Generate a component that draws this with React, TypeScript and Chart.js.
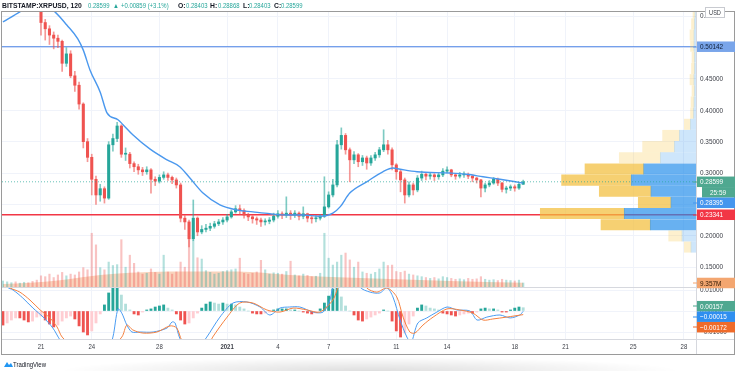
import React, { useEffect, useRef } from 'react';
import { Chart, registerables } from 'chart.js';
Chart.register(...registerables);

// ---------------- DATA (6h bars; index 0 = Dec 18 18:00) ----------------
const firstOpen = 0.585;
const closes = [
  0.590, 0.600, 0.610, 0.605, 0.615, 0.620, 0.610, 0.600, 0.575,
  0.540, 0.530, 0.520, 0.515, 0.510, 0.475, 0.490, 0.455, 0.440, 0.410, 0.350, 0.325,
  0.290, 0.265, 0.275, 0.260, 0.345, 0.355, 0.375, 0.330, 0.330, 0.315, 0.310, 0.305,
  0.302, 0.305, 0.290, 0.287, 0.293, 0.297, 0.293, 0.289, 0.281, 0.228, 0.222, 0.195,
  0.228, 0.206, 0.210, 0.212, 0.215, 0.219, 0.222, 0.225, 0.230, 0.238, 0.243, 0.240,
  0.233, 0.230, 0.227, 0.225, 0.222, 0.223, 0.225, 0.231, 0.235, 0.233, 0.236, 0.233,
  0.236, 0.231, 0.235, 0.228, 0.227, 0.228, 0.231, 0.246, 0.265, 0.281, 0.345, 0.360,
  0.337, 0.321, 0.329, 0.318, 0.324, 0.316, 0.324, 0.329, 0.337, 0.345, 0.337, 0.313,
  0.302, 0.289, 0.265, 0.281, 0.273, 0.292, 0.298, 0.295, 0.297, 0.294, 0.297, 0.303,
  0.305, 0.297, 0.295, 0.297, 0.298, 0.295, 0.292, 0.289, 0.276, 0.281, 0.284, 0.290,
  0.284, 0.274, 0.276, 0.278, 0.276, 0.282, 0.28599,
];
const highs = [
  0.600, 0.610, 0.620, 0.615, 0.625, 0.630, 0.620, 0.610, 0.600,
  0.580, 0.545, 0.535, 0.525, 0.520, 0.512, 0.500, 0.495, 0.462, 0.445, 0.412, 0.355,
  0.330, 0.295, 0.282, 0.278, 0.350, 0.362, 0.381, 0.377, 0.340, 0.333, 0.318, 0.314,
  0.309, 0.310, 0.307, 0.294, 0.297, 0.302, 0.300, 0.295, 0.292, 0.284, 0.232, 0.225,
  0.257, 0.230, 0.216, 0.218, 0.220, 0.223, 0.226, 0.229, 0.234, 0.241, 0.248, 0.249,
  0.243, 0.236, 0.232, 0.230, 0.228, 0.227, 0.229, 0.236, 0.240, 0.238, 0.262, 0.240,
  0.240, 0.238, 0.246, 0.236, 0.231, 0.232, 0.234, 0.294, 0.270, 0.290, 0.352, 0.372,
  0.363, 0.340, 0.334, 0.331, 0.328, 0.327, 0.328, 0.333, 0.341, 0.369, 0.352, 0.340,
  0.315, 0.305, 0.292, 0.286, 0.284, 0.296, 0.303, 0.300, 0.301, 0.299, 0.300, 0.307,
  0.310, 0.306, 0.299, 0.301, 0.302, 0.300, 0.297, 0.293, 0.290, 0.284, 0.288, 0.293,
  0.292, 0.285, 0.279, 0.281, 0.281, 0.285, 0.28868,
];
const lows = [
  0.580, 0.585, 0.595, 0.595, 0.600, 0.605, 0.595, 0.585, 0.570,
  0.520, 0.512, 0.505, 0.498, 0.500, 0.462, 0.470, 0.452, 0.430, 0.402, 0.340, 0.318,
  0.265, 0.250, 0.255, 0.252, 0.258, 0.335, 0.350, 0.325, 0.320, 0.308, 0.302, 0.298,
  0.296, 0.298, 0.268, 0.280, 0.284, 0.290, 0.288, 0.283, 0.276, 0.222, 0.210, 0.182,
  0.192, 0.200, 0.203, 0.206, 0.208, 0.212, 0.216, 0.218, 0.222, 0.228, 0.236, 0.234,
  0.228, 0.224, 0.220, 0.218, 0.215, 0.217, 0.219, 0.222, 0.228, 0.227, 0.229, 0.226,
  0.229, 0.225, 0.227, 0.222, 0.220, 0.222, 0.225, 0.229, 0.244, 0.262, 0.278, 0.338,
  0.330, 0.286, 0.315, 0.310, 0.312, 0.306, 0.312, 0.320, 0.325, 0.334, 0.330, 0.305,
  0.290, 0.270, 0.252, 0.262, 0.265, 0.270, 0.288, 0.289, 0.290, 0.288, 0.290, 0.294,
  0.300, 0.294, 0.290, 0.292, 0.293, 0.291, 0.286, 0.284, 0.262, 0.270, 0.278, 0.282,
  0.280, 0.270, 0.268, 0.272, 0.271, 0.274, 0.28403,
];
// volume, millions
const volumes = [
  14, 12, 10, 12, 9, 11, 10, 13, 16,
  26, 24, 30, 22, 28, 34, 26, 30, 28, 35, 45, 40,
  125, 98, 45, 40, 58, 50, 52, 110, 46, 74, 55, 35,
  30, 32, 42, 34, 30, 74, 35, 30, 35, 58, 46, 110,
  108, 68, 65, 38, 34, 30, 32, 36, 38, 40, 42, 67,
  32, 30, 32, 35, 62, 40, 30, 33, 32, 30, 36, 60,
  28, 26, 30, 27, 24, 25, 32, 125, 67, 51, 58, 74,
  79, 63, 46, 58, 35, 32, 30, 34, 42, 58, 50, 51,
  36, 34, 37, 30, 28, 26, 24, 22, 20, 22, 19, 24,
  22, 20, 18, 19, 17, 20, 18, 19, 24, 18, 16, 17,
  15, 18, 16, 15, 14, 16, 9.357,
];
const volMaIdx = [0, 6.4, 13.5, 23, 30, 39.5, 55.3, 67.8, 84.4, 105.7, 123];
const volMaVal = [7, 10, 16, 28, 33, 36, 36, 28, 21, 14, 10];

// moving average on price
const maIdx = [0, 4, 8, 12.3, 15.1, 17.7, 19, 20.6, 23, 24.6, 27.2, 28.4, 30.7, 34.8, 38.8, 41.8, 44.2, 47.3, 51.3, 55.3, 59.1, 63.1, 67.1, 70.9, 74.9, 78, 79.7, 82, 86, 89.8, 92.2, 93.9, 97.9, 105.7, 109.7, 113.5, 117.5, 123];
const maVal = [0.541, 0.557, 0.575, 0.557, 0.536, 0.514, 0.496, 0.464, 0.429, 0.396, 0.385, 0.377, 0.361, 0.338, 0.321, 0.310, 0.292, 0.268, 0.249, 0.241, 0.238, 0.235, 0.233, 0.233, 0.231, 0.236, 0.246, 0.268, 0.286, 0.302, 0.308, 0.306, 0.302, 0.300, 0.298, 0.294, 0.290, 0.28395];

// MACD
const macdHist = [
  -0.0067, -0.0057, -0.0043, -0.0033, -0.0033, -0.0043, -0.0052, -0.0048, -0.0029,
  -0.0024, -0.0043, -0.0062, -0.0076, -0.0067, -0.0048, -0.0033, -0.0024, -0.0038, -0.0071, -0.0100, -0.0114,
  -0.0095, -0.0057, -0.0014, 0.0029, 0.0086, 0.0114, 0.0114, 0.0076, 0.0033, 0.0005, -0.0014, -0.0019,
  -0.0005, 0.0005, 0.0010, 0.0019, 0.0024, 0.0029, 0.0014, 0.0005, -0.0014, -0.0043, -0.0062, -0.0057,
  -0.0033, -0.0010, 0.0014, 0.0033, 0.0043, 0.0038, 0.0033, 0.0038, 0.0033, 0.0033, 0.0029, 0.0019,
  0.0010, 0.0000, -0.0010, -0.0014, -0.0014, -0.0010, -0.0005, 0.0005, 0.0010, 0.0010, 0.0010, 0.0005,
  0.0005, 0.0000, -0.0005, -0.0010, -0.0014, -0.0010, 0.0010, 0.0038, 0.0071, 0.0105, 0.0114, 0.0067,
  0.0024, 0.0000, -0.0019, -0.0043, -0.0048, -0.0038, -0.0029, -0.0019, -0.0010, 0.0005, 0.0000, -0.0048,
  -0.0095, -0.0124, -0.0105, -0.0062, -0.0024, 0.0014, 0.0029, 0.0024, 0.0014, 0.0010, 0.0005, -0.0010,
  -0.0014, -0.0019, -0.0024, -0.0019, -0.0014, -0.0010, -0.0010, -0.0005, 0.0010, 0.0014, 0.0010, 0.0010,
  0.0005, -0.0005, -0.0005, 0.0005, 0.0014, 0.0019, 0.00157,
];
const macdIdx = [0, 1, 2.4, 4.7, 7.1, 9.5, 11.8, 13.5, 16, 20, 24, 26, 27.2, 28.1, 29.3, 30.5, 32.4, 35.5, 38.8, 40, 40.7, 41.8, 44, 46, 48.2, 51.3, 54.4, 57.7, 60.8, 63.1, 65.5, 67.8, 70.2, 73.3, 75.7, 77.3, 78, 80, 82, 84.4, 86.8, 89.1, 90.8, 92.2, 93.9, 95.5, 96.5, 98.1, 100.2, 102.6, 105, 107.3, 110.4, 112.1, 114.4, 117.5, 119.9, 122.2, 123];
const macdVal = [0.015, 0.0114, 0.0100, 0.0062, 0.0014, -0.0029, -0.0081, -0.0138, -0.020, -0.030, -0.025, -0.0124, 0.001, -0.001, -0.0067, -0.010, -0.010, -0.010, -0.0081, -0.0052, -0.0057, -0.0129, -0.020, -0.018, -0.0124, -0.0029, 0.0038, 0.0043, 0.0019, -0.0019, 0.0014, 0.0019, 0.0019, -0.0005, -0.0005, 0.0052, 0.0114, 0.020, 0.022, 0.0114, 0.009, 0.0086, 0.011, 0.0067, -0.0043, -0.0124, -0.015, -0.0057, -0.0033, -0.0005, 0.0019, 0.0005, 0, -0.0043, -0.0029, -0.0019, -0.0033, -0.0019, -0.00015];
const sigIdx = [0, 1.7, 4, 6.4, 8.8, 11.1, 12.8, 14, 18, 22, 28.1, 29.3, 30.7, 33.1, 36.4, 39.5, 41.1, 42.3, 45, 48, 49.6, 53, 56, 59.1, 62.4, 65.5, 68.6, 71.9, 74.9, 78, 79.2, 81, 83, 86, 88.4, 90.8, 93.1, 94.6, 96.2, 97.4, 99.3, 101.7, 105, 108, 111.1, 113.5, 115.8, 119.1, 123];
const sigVal = [0.014, 0.011, 0.009, 0.0052, 0.0005, -0.0033, -0.0076, -0.0124, -0.020, -0.025, -0.0124, -0.0067, -0.009, -0.0105, -0.010, -0.0071, -0.0081, -0.014, -0.020, -0.018, -0.0124, -0.0029, 0.0038, 0.0038, 0.0005, -0.0005, 0.0014, 0.0005, -0.0005, 0.0052, 0.0114, 0.020, 0.020, 0.011, 0.009, 0.011, 0.0067, -0.0029, -0.010, -0.0105, -0.0067, -0.0029, 0.001, 0.0005, -0.001, -0.0043, -0.0038, -0.0029, -0.00172];

// volume profile (visible range)
const profCenters = [0.1819, 0.1997, 0.2175, 0.2353, 0.2531, 0.2709, 0.2887, 0.3065, 0.3243, 0.3421, 0.3599, 0.3777, 0.3955, 0.4133, 0.4311, 0.4489, 0.4667, 0.4845, 0.5023, 0.5201, 0.5379, 0.5557];
const profUp = [5, 14, 45.7, 71.7, 25, 45, 64.7, 52.3, 35.7, 21.7, 16.7, 5.7, 2.5, 2, 1.5, 2, 1.5, 1.5, 2, 2, 1.5, 1];
const profDown = [6.7, 13.3, 49.3, 84, 32.7, 51.7, 69.7, 58.7, 41, 31.7, 16.7, 6, 3, 3, 2.5, 4, 3, 2.5, 3.5, 4, 3, 2];
const profInValueArea = [0, 0, 1, 1, 1, 1, 1, 1, 0, 0, 0, 0, 0, 0, 0, 0, 0, 0, 0, 0, 0, 0];

// axis ticks
const dayTickIdx = [9, 21, 37, 53, 65, 77, 93, 105, 121, 133, 149, 161];
const dayTickLabels = ['21', '24', '28', '2021', '4', '7', '11', '14', '18', '21', '25', '28'];
const priceTicks = [0.15, 0.2, 0.25, 0.3, 0.35, 0.4, 0.45, 0.5, 0.55];
const macdTicks = [-0.01, 0, 0.01];

// levels & header
const blueLevel = 0.50142;
const redLevel = 0.23341;
const lastPrice = 0.28599;
const maLast = 0.28395;
const lastVolume = 9.357;
const histLast = 0.00157, macdLast = -0.00015, sigLast = -0.00172;
const countdown = '25:59';
const symbol = 'BITSTAMP:XRPUSD, 120';
const changeText = '+0.00859 (+3.1%)';
const ohlcKeys = ['O:', 'H:', 'L:', 'C:'];
const ohlcVals = ['0.28403', '0.28868', '0.28403', '0.28599'];

// ---------------- STYLE ----------------
const FONT = "'Liberation Sans', Arial, sans-serif";
const TEAL = '#26a69a';
const RED = '#ef5350';
const GRID = '#f0f3fa';
const X_MIN = -0.22, X_MAX = 163.85;
const P_MIN = 0.1182, P_MAX = 0.5568;
const M_MIN = -0.01333, M_MAX = 0.01143;
const V_MIN = -120.9, V_MAX = 639.5;

function sxText(ctx: CanvasRenderingContext2D, s: string, x: number, y: number, align: CanvasTextAlign, scale: number) {
  ctx.save();
  ctx.translate(x, y);
  ctx.scale(scale, 1);
  ctx.textAlign = align;
  ctx.textBaseline = 'middle';
  ctx.fillText(s, 0, 0);
  ctx.restore();
}

const panePlugin = {
  id: 'panes',
  beforeDatasetDraw(chart: any, args: any) {
    const meta = args.meta;
    let ys = chart.scales[meta.yAxisID];
    if (meta.yAxisID === 'yv') ys = chart.scales.y;
    const a = chart.chartArea;
    const ctx = chart.ctx;
    ctx.save();
    ctx.beginPath();
    ctx.rect(a.left, ys.top, a.right - a.left, ys.bottom - ys.top);
    ctx.clip();
  },
  afterDatasetDraw(chart: any) {
    chart.ctx.restore();
  },
  afterDraw(chart: any) {
    const ctx: CanvasRenderingContext2D = chart.ctx;
    const a = chart.chartArea;
    const y = chart.scales.y, ym = chart.scales.ym, yv = chart.scales.yv, x = chart.scales.x;
    ctx.save();
    ctx.strokeStyle = '#d6d8de';
    ctx.lineWidth = 1;
    ctx.beginPath();
    ctx.moveTo(a.left, Math.round(y.bottom) + 0.5); ctx.lineTo(a.right, Math.round(y.bottom) + 0.5);
    ctx.moveTo(a.left, Math.round(a.bottom) + 0.5); ctx.lineTo(735, Math.round(a.bottom) + 0.5);
    ctx.moveTo(Math.round(a.right) + 0.5, a.top); ctx.lineTo(Math.round(a.right) + 0.5, 355);
    ctx.stroke();
    ctx.strokeStyle = '#9a9a9a';
    ctx.strokeRect(1.5, 11.5, 733, 343);

    ctx.fillStyle = '#3a3d45';
    ctx.font = `8px ${FONT}`;
    priceTicks.forEach(v => sxText(ctx, v.toFixed(5), a.right + 4, y.getPixelForValue(v), 'left', 0.8));
    macdTicks.forEach(v => sxText(ctx, v.toFixed(5).replace('-', '\u2212'), a.right + 4, ym.getPixelForValue(v), 'left', 0.8));

    dayTickIdx.forEach((v, k) => {
      ctx.font = (dayTickLabels[k] === '2021' ? 'bold ' : '') + `8px ${FONT}`;
      sxText(ctx, dayTickLabels[k], x.getPixelForValue(v), 347, 'center', 0.75);
    });

    const H = 10.5;
    const labels = [
      { yy: y.getPixelForValue(blueLevel), text: blueLevel.toFixed(5), bg: '#79a5ea', fg: '#0f1e36' },
      { yy: y.getPixelForValue(lastPrice), text: lastPrice.toFixed(5), bg: '#4fa890', fg: '#fff', sub: countdown },
      { yy: y.getPixelForValue(maLast), text: maLast.toFixed(5), bg: '#4596ee', fg: '#fff' },
      { yy: y.getPixelForValue(redLevel), text: redLevel.toFixed(5), bg: '#f23645', fg: '#fff' },
      { yy: yv.getPixelForValue(lastVolume), text: lastVolume.toFixed(3) + 'M', bg: '#f3a670', fg: '#2a1500' },
      { yy: ym.getPixelForValue(histLast) - 1.5, text: histLast.toFixed(5), bg: '#4fa890', fg: '#fff' },
      { yy: ym.getPixelForValue(macdLast), text: macdLast.toFixed(5).replace('-', '\u2212'), bg: '#2f8ff0', fg: '#fff' },
      { yy: ym.getPixelForValue(sigLast), text: sigLast.toFixed(5).replace('-', '\u2212'), bg: '#ef6b2a', fg: '#fff' },
    ];
    let prevBottom = -100;
    const placed: any[] = [];
    labels.forEach((l: any) => {
      const c = Math.max(l.yy, prevBottom + H / 2);
      placed.push({ ...l, c });
      prevBottom = c + H / 2;
      if (l.sub) {
        const c2 = prevBottom + H / 2;
        placed.push({ text: l.sub, bg: l.bg, fg: '#fff', c: c2, narrow: true });
        prevBottom = c2 + H / 2;
      }
    });
    ctx.font = `8px ${FONT}`;
    placed.forEach(l => {
      const x0 = l.narrow ? 702 : 697;
      ctx.fillStyle = l.bg;
      ctx.fillRect(x0, l.c - H / 2, 735 - x0, H);
      if (!l.narrow) ctx.fillRect(693, Math.round(l.c) - 0.5, 4, 1);
      ctx.fillStyle = l.fg;
      if (l.narrow) sxText(ctx, l.text, 718, l.c + 0.5, 'center', 0.8);
      else sxText(ctx, l.text, 700, l.c + 0.5, 'left', 0.8);
    });

    ctx.fillStyle = '#fff';
    ctx.fillRect(705.5, 7.5, 19, 10);
    ctx.strokeStyle = '#c8cad0';
    ctx.strokeRect(705.5, 7.5, 19, 10);
    ctx.fillStyle = '#3a3d45';
    ctx.font = `7px ${FONT}`;
    sxText(ctx, 'USD', 715, 12.8, 'center', 0.8);
    ctx.restore();
  },
};

function buildConfig(): any {
  const idx = closes.map((_, i) => i);
  const opens = closes.map((c, i) => (i === 0 ? firstOpen : closes[i - 1]));
  const isUp = closes.map((c, i) => c >= opens[i]);
  const pts = (xs: number[], ys: number[]) => xs.map((v, k) => ({ x: v, y: ys[k] }));
  const histColors = macdHist.map((v, i) => {
    const p = i ? macdHist[i - 1] : 0;
    return v >= 0 ? (v >= p ? TEAL : '#b2dfdb') : (v <= p ? RED : '#ffcdd2');
  });
  const hidden = { display: false, offset: false };

  return {
    type: 'bar',
    data: {
      datasets: [
        {
          type: 'line', label: 'Vol MA', yAxisID: 'yv', xAxisID: 'x', order: 20,
          data: pts(volMaIdx, volMaVal), borderWidth: 0, pointRadius: 0,
          backgroundColor: 'rgba(240,140,80,0.38)', fill: 'origin', cubicInterpolationMode: 'monotone',
        },
        {
          label: 'Volume', yAxisID: 'yv', xAxisID: 'x', order: 19, grouped: false, barThickness: 1.5,
          data: idx.map(i => ({ x: i, y: volumes[i] })),
          backgroundColor: idx.map(i => (isUp[i] ? 'rgba(38,166,154,0.35)' : 'rgba(239,83,80,0.35)')),
        },
        {
          type: 'line', label: 'Blue level', yAxisID: 'y', xAxisID: 'x', order: 15,
          data: [{ x: X_MIN, y: blueLevel }, { x: X_MAX, y: blueLevel }],
          borderColor: '#4f86e6', borderWidth: 1, pointRadius: 0,
        },
        {
          type: 'line', label: 'Red level', yAxisID: 'y', xAxisID: 'x', order: 15,
          data: [{ x: X_MIN, y: redLevel }, { x: X_MAX, y: redLevel }],
          borderColor: '#f23645', borderWidth: 1.6, pointRadius: 0,
        },
        {
          label: 'Wicks', yAxisID: 'y', xAxisID: 'x', order: 12, grouped: false, barThickness: 1,
          data: idx.map(i => ({ x: i, y: [Math.min(lows[i], opens[i], closes[i]), Math.max(highs[i], opens[i], closes[i])] })),
          backgroundColor: idx.map(i => (isUp[i] ? 'rgba(38,166,154,0.6)' : 'rgba(239,83,80,0.6)')),
        },
        {
          label: 'Bodies', yAxisID: 'y', xAxisID: 'x', order: 11, grouped: false, barThickness: 2.4, minBarLength: 1,
          data: idx.map(i => ({ x: i, y: [opens[i], closes[i]] })),
          backgroundColor: idx.map(i => (isUp[i] ? TEAL : RED)),
        },
        {
          type: 'line', label: 'MA', yAxisID: 'y', xAxisID: 'x', order: 10,
          data: pts(maIdx, maVal), borderColor: '#4a98ee', borderWidth: 1.4, pointRadius: 0,
          cubicInterpolationMode: 'monotone',
        },
        {
          label: 'Profile up', yAxisID: 'y', xAxisID: 'xp', indexAxis: 'y', order: 5, grouped: false, barThickness: 10.4,
          data: profCenters.map((c, k) => ({ y: c, x: [0, profUp[k]] })),
          backgroundColor: profInValueArea.map(f => (f ? 'rgba(33,140,235,0.68)' : 'rgba(33,140,235,0.22)')),
        },
        {
          label: 'Profile down', yAxisID: 'y', xAxisID: 'xp', indexAxis: 'y', order: 5, grouped: false, barThickness: 10.4,
          data: profCenters.map((c, k) => ({ y: c, x: [profUp[k], profUp[k] + profDown[k]] })),
          backgroundColor: profInValueArea.map(f => (f ? 'rgba(242,190,60,0.72)' : 'rgba(248,200,80,0.28)')),
        },
        {
          type: 'line', label: 'Last', yAxisID: 'y', xAxisID: 'x', order: 1,
          data: [{ x: X_MIN, y: lastPrice }, { x: X_MAX, y: lastPrice }],
          borderColor: 'rgba(38,166,154,0.7)', borderWidth: 1, borderDash: [1, 2], pointRadius: 0,
        },
        {
          label: 'Histogram', yAxisID: 'ym', xAxisID: 'x', order: 12, grouped: false, barThickness: 2.2,
          data: idx.map(i => ({ x: i, y: macdHist[i] })), backgroundColor: histColors,
        },
        {
          type: 'line', label: 'MACD', yAxisID: 'ym', xAxisID: 'x', order: 10,
          data: pts(macdIdx, macdVal), borderColor: '#4a9cf2', borderWidth: 1, pointRadius: 0, tension: 0.3,
        },
        {
          type: 'line', label: 'Signal', yAxisID: 'ym', xAxisID: 'x', order: 9,
          data: pts(sigIdx, sigVal), borderColor: '#f5813f', borderWidth: 1, pointRadius: 0, tension: 0.3,
        },
      ],
    },
    options: {
      responsive: false,
      animation: false,
      devicePixelRatio: 1,
      events: [],
      layout: { padding: { left: 2, top: 12, right: 1, bottom: 16 } },
      plugins: { legend: { display: false }, tooltip: { enabled: false } },
      scales: {
        x: {
          type: 'linear', position: 'bottom', min: X_MIN, max: X_MAX, offset: false,
          grid: { color: GRID, drawTicks: false, offset: false }, border: { display: false },
          ticks: { display: false },
          afterBuildTicks: (s: any) => { s.ticks = dayTickIdx.map(v => ({ value: v })); },
          afterFit: (s: any) => { s.height = 16; },
        },
        y: {
          type: 'linear', position: 'right', stack: 'panes', stackWeight: 275, min: P_MIN, max: P_MAX, offset: false,
          beginAtZero: false, grid: { color: GRID, drawTicks: false, offset: false }, border: { display: false },
          ticks: { display: false },
          afterBuildTicks: (s: any) => { s.ticks = priceTicks.map(v => ({ value: v })); },
          afterFit: (s: any) => { s.width = 39; },
        },
        ym: {
          type: 'linear', position: 'right', stack: 'panes', stackWeight: 52, min: M_MIN, max: M_MAX, offset: false,
          beginAtZero: false, grid: { color: GRID, drawTicks: false, offset: false }, border: { display: false },
          ticks: { display: false },
          afterBuildTicks: (s: any) => { s.ticks = macdTicks.map(v => ({ value: v })); },
          afterFit: (s: any) => { s.width = 39; },
        },
        yv: { type: 'linear', position: 'right', min: V_MIN, max: V_MAX, ...hidden, grid: { display: false, offset: false } },
        xp: { type: 'linear', position: 'bottom', min: 0, max: 694, reverse: true, ...hidden, grid: { display: false, offset: false } },
      },
    },
    plugins: [panePlugin],
  };
}

const headerPieces: { x: number; text: string; bold?: boolean; teal?: boolean }[] = [
  { x: 1.5, text: symbol, bold: true },
  { x: 88, text: lastPrice.toFixed(5), teal: true },
  { x: 113, text: '▲', teal: true },
  { x: 121, text: changeText, teal: true },
  ...ohlcKeys.flatMap((k, i) => [
    { x: [178, 210, 243, 274][i], text: k, bold: true },
    { x: [185.5, 217.5, 249, 281][i], text: ohlcVals[i], teal: true },
  ]),
];

export default function App() {
  const ref = useRef<HTMLCanvasElement>(null);
  useEffect(() => {
    document.body.style.margin = '0';
    const chart = new Chart(ref.current as HTMLCanvasElement, buildConfig());
    return () => chart.destroy();
  }, []);
  return (
    <div style={{ position: 'relative', width: 736, height: 371, background: '#fff', overflow: 'hidden', fontFamily: FONT }}>
      <canvas ref={ref} width={736} height={371} style={{ position: 'absolute', left: 0, top: 0, width: 736, height: 371 }} />
      {headerPieces.map((p, i) => (
        <div key={i} style={{ position: 'absolute', left: p.x, top: 0, height: 11, lineHeight: '11px', fontSize: 7, whiteSpace: 'nowrap', transform: `scaleX(${p.bold ? 0.97 : 0.85})`, transformOrigin: '0 0', color: p.teal ? TEAL : '#131722', fontWeight: p.bold ? 'bold' : 'normal' }}>
          {p.text}
        </div>
      ))}
      <div style={{ position: 'absolute', left: 60, top: 357, width: 620, height: 14, background: 'radial-gradient(ellipse 50% 100% at 50% 100%, rgba(0,0,0,0.13), rgba(0,0,0,0))' }} />
      <svg style={{ position: 'absolute', left: 3, top: 360 }} width={10} height={8} viewBox="0 0 10 8">
        <path d="M1 7 L4 2 L6 5 L8 3 L10 7 Z" fill="#2196f3" />
      </svg>
      <div style={{ position: 'absolute', left: 13, top: 359, height: 11, lineHeight: '11px', fontSize: 7.5, whiteSpace: 'nowrap', transform: 'scaleX(0.8)', transformOrigin: '0 0', color: '#131722' }}>
        TradingView
      </div>
    </div>
  );
}
